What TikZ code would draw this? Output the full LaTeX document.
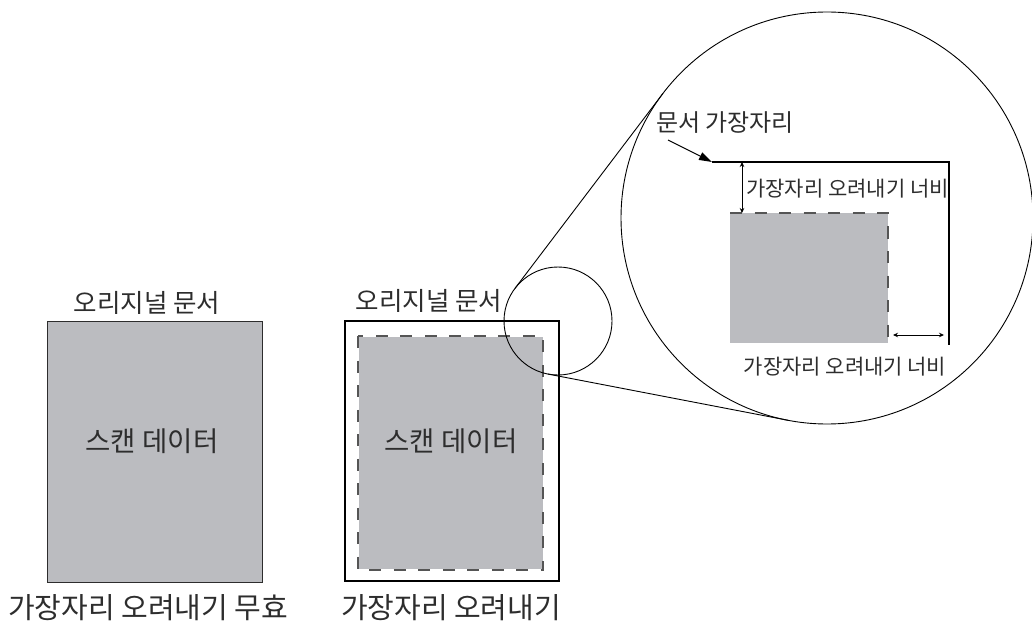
\documentclass[tikz,border=0pt]{standalone}
\usepackage{fontspec}
\newfontfamily\kr{Noto Sans CJK KR}
\usetikzlibrary{arrows.meta}
\definecolor{scangray}{RGB}{187,188,192}
\definecolor{inkgray}{RGB}{45,45,45}
\definecolor{dashgray}{RGB}{85,85,85}
\begin{document}
\begin{tikzpicture}[x=1pt,y=-1pt,line join=miter,
  lbl/.style={font=\kr\fontsize{25.5}{25.5}\selectfont,text=inkgray,inner sep=0pt},
  bigl/.style={lbl,font=\kr\fontsize{27.5}{27.5}\selectfont},
  capl/.style={lbl,font=\kr\fontsize{29}{29}\selectfont},
  smalll/.style={lbl,font=\kr\fontsize{21}{21}\selectfont},
  cutline/.style={dashgray,line width=1.6,dash pattern=on 12 off 12.5},
  dim/.style={{Stealth[length=5,width=4.5]}-{Stealth[length=5,width=4.5]},line width=0.9}]
\useasboundingbox (0,0) rectangle (1032,628);
\draw[inkgray,fill=scangray,line width=0.9] (47,321) rectangle (262,582);
\node[lbl] (origA) at (147,303) {오리지널 문서};
\node[bigl] (scanA) at (152,441) {스캔 데이터};
\node[capl] (capA) at (148,608) {가장자리 오려내기 무효};
\draw[line width=1.1] (345,321) rectangle (559,581);
\fill[scangray] (359,337) rectangle (543,569);
\draw[cutline] (358,336) rectangle (543,570);
\node[lbl] (origB) at (429,301) {오리지널 문서};
\node[bigl] (scanB) at (451,441) {스캔 데이터};
\node[capl] (capB) at (451,608) {가장자리 오려내기};
\coordinate (lens) at (558,321);
\coordinate (loupe) at (827,218);
\draw[line width=0.9] (lens) circle[radius=54];
\draw[line width=0.9] (loupe) circle[radius=206];
\draw[line width=0.9] ([shift={(217.19:54)}]lens) -- ([shift={(217.19:206)}]loupe);
\draw[line width=0.9] ([shift={(100.91:54)}]lens) -- ([shift={(100.91:206)}]loupe);
\coordinate (edgeL) at (712,162);
\coordinate (edgeC) at (949,162);
\coordinate (edgeB) at (949,345);
\fill[scangray] (730,213) rectangle (888,343);
\draw[cutline] (730,213) -- (888,213) -- (888,343);
\draw[line width=1.8] (edgeL) -- (edgeC) -- (edgeB);
\node[smalll,font=\kr\fontsize{24}{24}\selectfont,anchor=west] (edgeLbl) at (656,123) {문서 가장자리};
\coordinate (pointer) at (668,140);
\draw[-{Triangle[length=13,width=8]},line width=1.1] (pointer) -- (edgeL);
\coordinate (cutT) at (742,162);
\coordinate (cutTb) at (742,213);
\draw[dim] (cutT) -- (cutTb);
\node[smalll,anchor=west] (widthT) at (746,189) {가장자리 오려내기 너비};
\coordinate (cutR) at (893,335);
\coordinate (cutRb) at (944,335);
\draw[dim] (cutR) -- (cutRb);
\node[smalll] (widthR) at (845,367) {가장자리 오려내기 너비};
\end{tikzpicture}
\end{document}
